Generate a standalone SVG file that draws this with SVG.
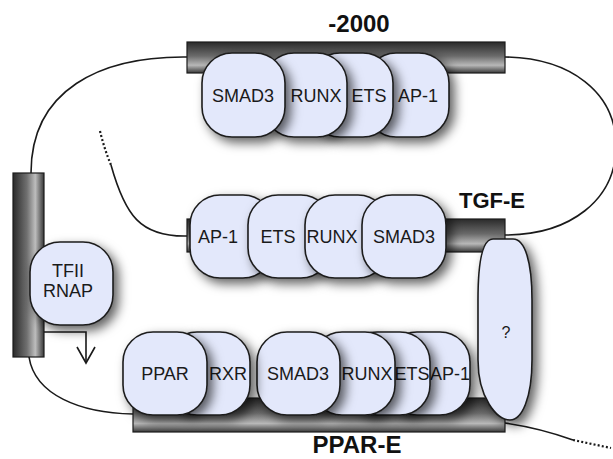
<svg xmlns="http://www.w3.org/2000/svg" width="613" height="459" viewBox="0 0 613 459">
  <defs>
    <style>
      .box { fill: #e3e8fb; stroke: #1c1c1c; stroke-width: 1.6; filter: url(#shadow); }
      .bar { stroke: #1c1c1c; stroke-width: 1.2; }
      .lbl { font-family: "Liberation Sans", Arial, sans-serif; font-size: 18px; fill: #1a1a1a; text-anchor: middle; }
      .title { font-family: "Liberation Sans", Arial, sans-serif; font-size: 24px; font-weight: bold; fill: #111; text-anchor: middle; }
      .wire { fill: none; stroke: #1a1a1a; stroke-width: 1.6; }
      .dots { fill: none; stroke: #1a1a1a; stroke-width: 2.2; stroke-dasharray: 2 2.2; }
    </style>
    <linearGradient id="barH" x1="0" y1="0" x2="0" y2="1">
      <stop offset="0" stop-color="#2a2a2a"/>
      <stop offset="0.45" stop-color="#6a6a6a"/>
      <stop offset="0.75" stop-color="#b8b8b8"/>
      <stop offset="1" stop-color="#383838"/>
    </linearGradient>
    <linearGradient id="barV" x1="0" y1="0" x2="1" y2="0">
      <stop offset="0" stop-color="#2a2a2a"/>
      <stop offset="0.45" stop-color="#707070"/>
      <stop offset="0.72" stop-color="#bdbdbd"/>
      <stop offset="1" stop-color="#383838"/>
    </linearGradient>
    <filter id="shadow" x="-30%" y="-30%" width="170%" height="170%">
      <feDropShadow dx="5" dy="5" stdDeviation="5.5" flood-color="#000" flood-opacity="0.62"/>
    </filter>
    <!-- open V arrowhead, drawn pointing along +x -->
    <marker id="openArrow" viewBox="0 0 20 20" refX="18" refY="10" markerWidth="20" markerHeight="20" markerUnits="userSpaceOnUse" orient="auto">
      <polyline points="2,1 18,10 2,19" fill="none" stroke="#1a1a1a" stroke-width="1.6"/>
    </marker>
  </defs>

  <rect width="613" height="459" fill="#ffffff"/>

  <!-- DNA strand connecting the segments -->
  <g id="connectors">
    <path class="wire" d="M187,57 C100,56 31,90 31,173"/>
    <path class="wire" d="M505,57 C570,58 616,92 616,146 C616,200 570,235 505,235"/>
    <path class="dots" d="M100,131 Q104,148 111,165"/>
    <path class="wire" d="M111,165 C125,215 140,237 187,236"/>
    <path class="wire" d="M29,357 C35,395 80,413 133,414"/>
    <path class="wire" d="M505,423 Q540,428 573,440"/>
    <path class="dots" d="M573,440 L611,448"/>
    <path class="wire" d="M44,332 H86 V363" marker-end="url(#openArrow)"/>
  </g>

  <!-- promoter segment -->
  <g id="promoter">
    <rect class="bar" x="13" y="173" width="31" height="184" fill="url(#barV)"/>
  </g>

  <!-- -2000 segment -->
  <g id="seg-2000">
    <rect class="bar" x="187" y="42" width="318" height="31" fill="url(#barH)"/>
    <text class="title" x="359" y="32">-2000</text>
  </g>

  <!-- TGF-E segment -->
  <g id="seg-tgfe">
    <rect class="bar" x="187" y="219" width="318" height="33" fill="url(#barH)"/>
    <text class="title" x="492" y="208" style="font-size:22px">TGF-E</text>
  </g>

  <!-- PPAR-E segment -->
  <g id="seg-ppare">
    <rect class="bar" x="133" y="398" width="372" height="34" fill="url(#barH)"/>
    <text class="title" x="357" y="453">PPAR-E</text>
  </g>

  <!-- factors on the -2000 segment (leftmost in front) -->
  <g id="top-ap1"><rect class="box" x="366" y="53" width="83" height="84" rx="30"/><text class="lbl" x="418" y="102">AP-1</text></g>
  <g id="top-ets"><rect class="box" x="310" y="53" width="83" height="84" rx="30"/><text class="lbl" x="369" y="102">ETS</text></g>
  <g id="top-runx"><rect class="box" x="264" y="53" width="83" height="84" rx="30"/><text class="lbl" x="316" y="102">RUNX</text></g>
  <g id="top-smad3"><rect class="box" x="202" y="53" width="83" height="84" rx="30"/><text class="lbl" x="243" y="102">SMAD3</text></g>

  <!-- factors on the TGF-E segment (rightmost in front) -->
  <g id="mid-ap1"><rect class="box" x="190" y="195" width="83" height="83" rx="30"/><text class="lbl" x="218" y="243">AP-1</text></g>
  <g id="mid-ets"><rect class="box" x="248" y="195" width="83" height="83" rx="30"/><text class="lbl" x="278" y="243">ETS</text></g>
  <g id="mid-runx"><rect class="box" x="305" y="195" width="83" height="83" rx="30"/><text class="lbl" x="332" y="243">RUNX</text></g>
  <g id="mid-smad3"><rect class="box" x="362" y="195" width="84" height="83" rx="30"/><text class="lbl" x="404" y="243">SMAD3</text></g>

  <!-- factors on the PPAR-E segment -->
  <g id="bot-ap1"><rect class="box" x="387" y="332" width="83" height="83" rx="30"/><text class="lbl" x="450" y="380">AP-1</text></g>
  <g id="bot-ets"><rect class="box" x="347" y="332" width="83" height="83" rx="30"/><text class="lbl" x="412" y="380">ETS</text></g>
  <g id="bot-runx"><rect class="box" x="312" y="332" width="83" height="83" rx="30"/><text class="lbl" x="367" y="380">RUNX</text></g>
  <g id="bot-smad3"><rect class="box" x="257" y="332" width="83" height="83" rx="30"/><text class="lbl" x="298" y="380">SMAD3</text></g>
  <g id="bot-rxr"><rect class="box" x="167" y="332" width="83" height="83" rx="30"/><text class="lbl" x="228" y="380">RXR</text></g>
  <g id="bot-ppar"><rect class="box" x="123" y="332" width="84" height="83" rx="30"/><text class="lbl" x="165" y="380">PPAR</text></g>

  <!-- unknown bridging factor -->
  <g id="unknown">
    <path class="box" d="M493,239 L513,239 C525,239 532,262 532,300 L532,360 C532,398 522,420 510,420 C497,420 478,398 478,360 L478,300 C478,262 482,239 493,239 Z"/>
    <text class="lbl" x="506" y="338" style="font-size:16px">?</text>
  </g>

  <!-- basal transcription machinery -->
  <g id="tfii-rnap">
    <rect class="box" x="30" y="242" width="83" height="83" rx="30"/>
    <text class="lbl" x="68" y="277">TFII</text>
    <text class="lbl" x="68" y="297">RNAP</text>
  </g>
</svg>
